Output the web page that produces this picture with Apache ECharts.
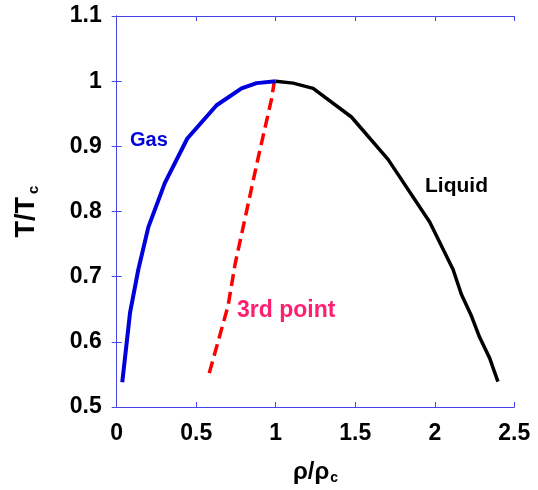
<!DOCTYPE html>
<html>
<head>
<meta charset="utf-8">
<script src="https://cdn.jsdelivr.net/npm/echarts@6/dist/echarts.min.js"></script>
<style>
  html, body { margin: 0; padding: 0; background: #fff; }
  #chart { width: 538px; height: 490px; }
</style>
</head>
<body>
<div id="chart"></div>
<script>
// Coexistence curve: reduced density vs reduced temperature
var gasRho = [0.035, 0.084, 0.136, 0.199, 0.303, 0.444, 0.628, 0.785, 0.879, 1.0];
var gasT   = [0.538, 0.645, 0.711, 0.776, 0.844, 0.912, 0.963, 0.989, 0.997, 1.0];

var liquidRho = [1.0, 1.109, 1.235, 1.476, 1.706, 1.968, 2.115, 2.167, 2.230, 2.282, 2.345, 2.397];
var liquidT   = [1.0, 0.997, 0.989, 0.945, 0.880, 0.784, 0.711, 0.673, 0.640, 0.607, 0.575, 0.539];

var thirdRho = [0.582, 0.700, 0.745, 0.795, 0.889, 0.974, 0.990];
var thirdT   = [0.552, 0.655, 0.720, 0.776, 0.882, 0.973, 0.998];

var xTicks = [0, 0.5, 1, 1.5, 2, 2.5];
var yTicks = [0.5, 0.6, 0.7, 0.8, 0.9, 1.0, 1.1];

function pairs(xs, ys) {
  return xs.map(function (x, i) { return [x, ys[i]]; });
}

var FONT = '"Liberation Sans", Arial, sans-serif';
var AXIS_BLUE = '#4646e6';

function baseAxis(extra) {
  var a = {
    type: 'value',
    axisLine: { show: true, lineStyle: { color: AXIS_BLUE, width: 1 } },
    axisTick: { show: true, inside: true, length: 5, lineStyle: { color: AXIS_BLUE, width: 1 } },
    splitLine: { show: false }
  };
  for (var k in extra) a[k] = extra[k];
  return a;
}

var chart = echarts.init(document.getElementById('chart'), null, { renderer: 'canvas' });

chart.setOption({
  animation: false,
  backgroundColor: '#ffffff',
  grid: { left: 116.7, right: 23.7, top: 16, bottom: 77.3, containLabel: false },
  xAxis: [
    baseAxis({
      min: xTicks[0], max: xTicks[xTicks.length - 1], interval: 0.5,
      position: 'bottom',
      axisLabel: { color: '#000', fontFamily: FONT, fontWeight: 'bold', fontSize: 23, margin: 15 },
      name: '{a|ρ/ρ}{s|c}',
      nameLocation: 'middle',
      nameGap: 50,
      nameTextStyle: {
        rich: {
          a: { fontFamily: FONT, fontSize: 24, fontWeight: 'bold', color: '#000', lineHeight: 30 },
          s: { fontFamily: FONT, fontSize: 14, fontWeight: 'bold', color: '#000', lineHeight: 30, padding: [12, 0, 0, 1] }
        }
      }
    }),
    baseAxis({
      min: xTicks[0], max: xTicks[xTicks.length - 1], interval: 0.5,
      position: 'top',
      axisLabel: { show: false }
    })
  ],
  yAxis: [
    baseAxis({
      min: yTicks[0], max: yTicks[yTicks.length - 1], interval: 0.1,
      position: 'left',
      axisLabel: { color: '#000', fontFamily: FONT, fontWeight: 'bold', fontSize: 23, margin: 15,
        formatter: function (v) { return String(Math.round(v * 10) / 10); } },
      name: '{a|T/T}{s|c}',
      nameLocation: 'middle',
      nameRotate: 90,
      nameGap: 74,
      nameTextStyle: {
        rich: {
          a: { fontFamily: FONT, fontSize: 27, fontWeight: 'bold', color: '#000', lineHeight: 32 },
          s: { fontFamily: FONT, fontSize: 15, fontWeight: 'bold', color: '#000', lineHeight: 32, padding: [14, 0, 0, 3] }
        }
      }
    }),
    baseAxis({
      min: yTicks[0], max: yTicks[yTicks.length - 1], interval: 0.1,
      position: 'right',
      axisLabel: { show: false }
    })
  ],
  series: [
    {
      name: 'Gas', type: 'line', xAxisIndex: 0, yAxisIndex: 0,
      data: pairs(gasRho, gasT), showSymbol: false, symbol: 'none',
      lineStyle: { color: '#0000dd', width: 4, join: 'round' }, z: 3
    },
    {
      name: 'Liquid', type: 'line', xAxisIndex: 0, yAxisIndex: 0,
      data: pairs(liquidRho, liquidT), showSymbol: false, symbol: 'none',
      lineStyle: { color: '#000000', width: 3.5, join: 'round' }, z: 3
    },
    {
      name: '3rd point', type: 'line', xAxisIndex: 0, yAxisIndex: 0,
      data: pairs(thirdRho, thirdT), showSymbol: false, symbol: 'none',
      lineStyle: { color: '#ff0000', width: 3.5, type: [12, 6] }, z: 2
    }
  ],
  graphic: [
    { type: 'text', left: 130, top: 130, z: 10,
      style: { text: 'Gas', font: 'bold 20px ' + FONT, fill: '#0000dd' } },
    { type: 'text', left: 425, top: 176, z: 10,
      style: { text: 'Liquid', font: 'bold 21px ' + FONT, fill: '#000000' } },
    { type: 'text', left: 237, top: 299, z: 10,
      style: { text: '3rd point', font: 'bold 23px ' + FONT, fill: '#ff1f6e' } }
  ]
});
</script>
</body>
</html>
